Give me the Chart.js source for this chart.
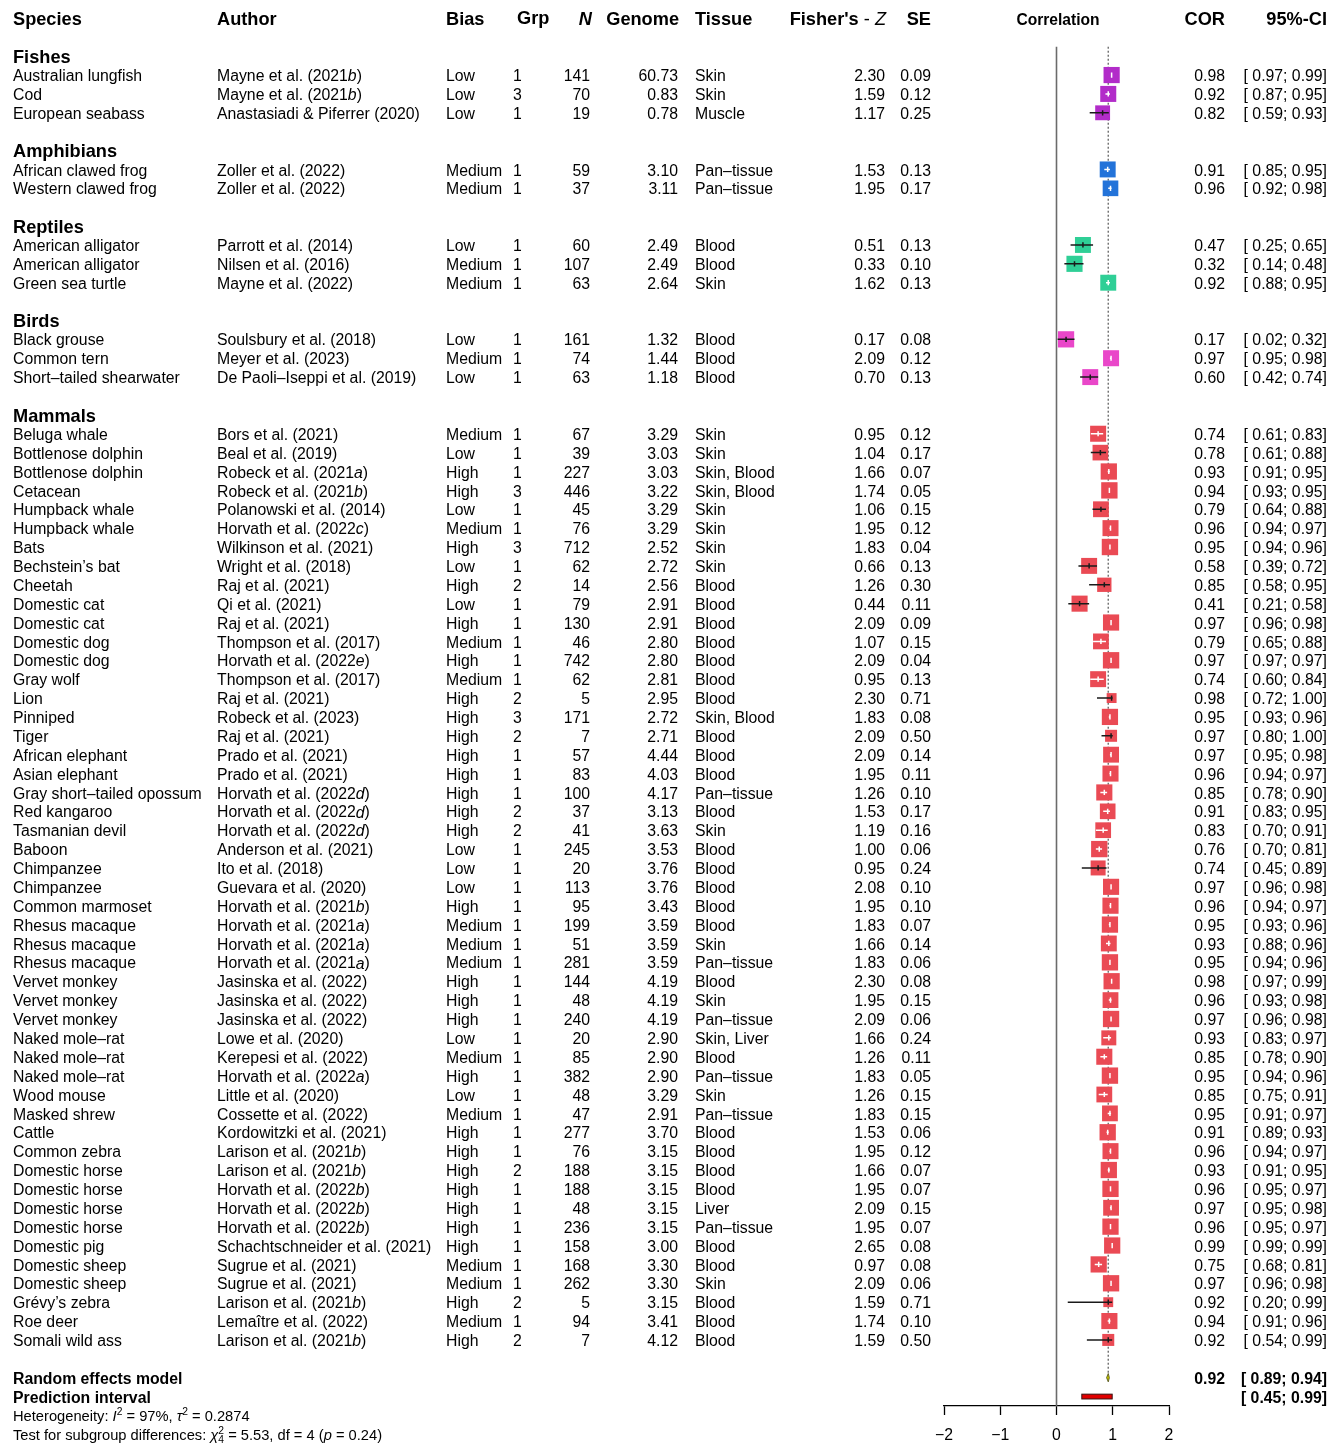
<!DOCTYPE html>
<html>
<head>
<meta charset="utf-8">
<title>Epigenetic clock accuracy forest plot</title>
<script src="https://cdn.jsdelivr.net/npm/chart.js@4.4.1/dist/chart.umd.min.js"></script>
<style>
  body { margin: 0; background: #fff; }
  canvas { display: block; }
</style>
</head>
<body>
<canvas id="forest" width="1344" height="1447"></canvas>
<script>
'use strict';

// ------------------------------- Data ------------------------------//
const groupNames = ['Fishes', 'Amphibians', 'Reptiles', 'Birds', 'Mammals'];
const groupCounts = [3, 2, 3, 3, 49];
const groupColors = ['#b22cc9', '#2373d9', '#2fcf96', '#e947c9', '#ea4a54'];

const species = [
  'Australian lungfish', 'Cod', 'European seabass',
  'African clawed frog', 'Western clawed frog',
  'American alligator', 'American alligator', 'Green sea turtle',
  'Black grouse', 'Common tern', 'Short\u2013tailed shearwater',
  'Beluga whale', 'Bottlenose dolphin', 'Bottlenose dolphin', 'Cetacean', 'Humpback whale',
  'Humpback whale', 'Bats', 'Bechstein\u2019s bat', 'Cheetah', 'Domestic cat',
  'Domestic cat', 'Domestic dog', 'Domestic dog', 'Gray wolf', 'Lion',
  'Pinniped', 'Tiger', 'African elephant', 'Asian elephant', 'Gray short\u2013tailed opossum',
  'Red kangaroo', 'Tasmanian devil', 'Baboon', 'Chimpanzee', 'Chimpanzee',
  'Common marmoset', 'Rhesus macaque', 'Rhesus macaque', 'Rhesus macaque', 'Vervet monkey',
  'Vervet monkey', 'Vervet monkey', 'Naked mole\u2013rat', 'Naked mole\u2013rat', 'Naked mole\u2013rat',
  'Wood mouse', 'Masked shrew', 'Cattle', 'Common zebra', 'Domestic horse',
  'Domestic horse', 'Domestic horse', 'Domestic horse', 'Domestic pig', 'Domestic sheep',
  'Domestic sheep', 'Gr\u00e9vy\u2019s zebra', 'Roe deer', 'Somali wild ass'
];

// *x* marks italic letters
const authors = [
  'Mayne et al. (2021*b*)', 'Mayne et al. (2021*b*)', 'Anastasiadi & Piferrer (2020)',
  'Zoller et al. (2022)', 'Zoller et al. (2022)',
  'Parrott et al. (2014)', 'Nilsen et al. (2016)', 'Mayne et al. (2022)',
  'Soulsbury et al. (2018)', 'Meyer et al. (2023)', 'De Paoli\u2013Iseppi et al. (2019)',
  'Bors et al. (2021)', 'Beal et al. (2019)', 'Robeck et al. (2021*a*)', 'Robeck et al. (2021*b*)', 'Polanowski et al. (2014)',
  'Horvath et al. (2022*c*)', 'Wilkinson et al. (2021)', 'Wright et al. (2018)', 'Raj et al. (2021)', 'Qi et al. (2021)',
  'Raj et al. (2021)', 'Thompson et al. (2017)', 'Horvath et al. (2022*e*)', 'Thompson et al. (2017)', 'Raj et al. (2021)',
  'Robeck et al. (2023)', 'Raj et al. (2021)', 'Prado et al. (2021)', 'Prado et al. (2021)', 'Horvath et al. (2022*d*)',
  'Horvath et al. (2022*d*)', 'Horvath et al. (2022*d*)', 'Anderson et al. (2021)', 'Ito et al. (2018)', 'Guevara et al. (2020)',
  'Horvath et al. (2021*b*)', 'Horvath et al. (2021*a*)', 'Horvath et al. (2021*a*)', 'Horvath et al. (2021*a*)', 'Jasinska et al. (2022)',
  'Jasinska et al. (2022)', 'Jasinska et al. (2022)', 'Lowe et al. (2020)', 'Kerepesi et al. (2022)', 'Horvath et al. (2022*a*)',
  'Little et al. (2020)', 'Cossette et al. (2022)', 'Kordowitzki et al. (2021)', 'Larison et al. (2021*b*)', 'Larison et al. (2021*b*)',
  'Horvath et al. (2022*b*)', 'Horvath et al. (2022*b*)', 'Horvath et al. (2022*b*)', 'Schachtschneider et al. (2021)', 'Sugrue et al. (2021)',
  'Sugrue et al. (2021)', 'Larison et al. (2021*b*)', 'Lema\u00eetre et al. (2022)', 'Larison et al. (2021*b*)'
];

const bias = [
  'Low', 'Low', 'Low',
  'Medium', 'Medium',
  'Low', 'Medium', 'Medium',
  'Low', 'Medium', 'Low',
  'Medium', 'Low', 'High', 'High', 'Low',
  'Medium', 'High', 'Low', 'High', 'Low',
  'High', 'Medium', 'High', 'Medium', 'High',
  'High', 'High', 'High', 'High', 'High',
  'High', 'High', 'Low', 'Low', 'Low',
  'High', 'Medium', 'Medium', 'Medium', 'High',
  'High', 'High', 'Low', 'Medium', 'High',
  'Low', 'Medium', 'High', 'High', 'High',
  'High', 'High', 'High', 'High', 'Medium',
  'Medium', 'High', 'Medium', 'High'
];

const grp = [
  1, 3, 1,
  1, 1,
  1, 1, 1,
  1, 1, 1,
  1, 1, 1, 3, 1,  1, 3, 1, 2, 1,  1, 1, 1, 1, 2,  3, 2, 1, 1, 1,
  2, 2, 1, 1, 1,  1, 1, 1, 1, 1,  1, 1, 1, 1, 1,  1, 1, 1, 1, 2,
  1, 1, 1, 1, 1,  1, 2, 1, 2
];

const sampleN = [
  141, 70, 19,
  59, 37,
  60, 107, 63,
  161, 74, 63,
  67, 39, 227, 446, 45,  76, 712, 62, 14, 79,  130, 46, 742, 62, 5,  171, 7, 57, 83, 100,
  37, 41, 245, 20, 113,  95, 199, 51, 281, 144,  48, 240, 20, 85, 382,  48, 47, 277, 76, 188,
  188, 48, 236, 158, 168,  262, 5, 94, 7
];

const genome = [
  60.73, 0.83, 0.78,
  3.10, 3.11,
  2.49, 2.49, 2.64,
  1.32, 1.44, 1.18,
  3.29, 3.03, 3.03, 3.22, 3.29,  3.29, 2.52, 2.72, 2.56, 2.91,  2.91, 2.80, 2.80, 2.81, 2.95,
  2.72, 2.71, 4.44, 4.03, 4.17,  3.13, 3.63, 3.53, 3.76, 3.76,  3.43, 3.59, 3.59, 3.59, 4.19,
  4.19, 4.19, 2.90, 2.90, 2.90,  3.29, 2.91, 3.70, 3.15, 3.15,  3.15, 3.15, 3.15, 3.00, 3.30,
  3.30, 3.15, 3.41, 4.12
];

const tissue = [
  'Skin', 'Skin', 'Muscle',
  'Pan\u2013tissue', 'Pan\u2013tissue',
  'Blood', 'Blood', 'Skin',
  'Blood', 'Blood', 'Blood',
  'Skin', 'Skin', 'Skin, Blood', 'Skin, Blood', 'Skin',
  'Skin', 'Skin', 'Skin', 'Blood', 'Blood',
  'Blood', 'Blood', 'Blood', 'Blood', 'Blood',
  'Skin, Blood', 'Blood', 'Blood', 'Blood', 'Pan\u2013tissue',
  'Blood', 'Skin', 'Blood', 'Blood', 'Blood',
  'Blood', 'Blood', 'Skin', 'Pan\u2013tissue', 'Blood',
  'Skin', 'Pan\u2013tissue', 'Skin, Liver', 'Blood', 'Pan\u2013tissue',
  'Skin', 'Pan\u2013tissue', 'Blood', 'Blood', 'Blood',
  'Blood', 'Liver', 'Pan\u2013tissue', 'Blood', 'Blood',
  'Skin', 'Blood', 'Blood', 'Blood'
];

const fisherZ = [
  2.30, 1.59, 1.17,
  1.53, 1.95,
  0.51, 0.33, 1.62,
  0.17, 2.09, 0.70,
  0.95, 1.04, 1.66, 1.74, 1.06,  1.95, 1.83, 0.66, 1.26, 0.44,  2.09, 1.07, 2.09, 0.95, 2.30,
  1.83, 2.09, 2.09, 1.95, 1.26,  1.53, 1.19, 1.00, 0.95, 2.08,  1.95, 1.83, 1.66, 1.83, 2.30,
  1.95, 2.09, 1.66, 1.26, 1.83,  1.26, 1.83, 1.53, 1.95, 1.66,  1.95, 2.09, 1.95, 2.65, 0.97,
  2.09, 1.59, 1.74, 1.59
];

const se = [
  0.09, 0.12, 0.25,
  0.13, 0.17,
  0.13, 0.10, 0.13,
  0.08, 0.12, 0.13,
  0.12, 0.17, 0.07, 0.05, 0.15,  0.12, 0.04, 0.13, 0.30, 0.11,  0.09, 0.15, 0.04, 0.13, 0.71,
  0.08, 0.50, 0.14, 0.11, 0.10,  0.17, 0.16, 0.06, 0.24, 0.10,  0.10, 0.07, 0.14, 0.06, 0.08,
  0.15, 0.06, 0.24, 0.11, 0.05,  0.15, 0.15, 0.06, 0.12, 0.07,  0.07, 0.15, 0.07, 0.08, 0.08,
  0.06, 0.71, 0.10, 0.50
];

const cor = [
  0.98, 0.92, 0.82,
  0.91, 0.96,
  0.47, 0.32, 0.92,
  0.17, 0.97, 0.60,
  0.74, 0.78, 0.93, 0.94, 0.79,  0.96, 0.95, 0.58, 0.85, 0.41,  0.97, 0.79, 0.97, 0.74, 0.98,
  0.95, 0.97, 0.97, 0.96, 0.85,  0.91, 0.83, 0.76, 0.74, 0.97,  0.96, 0.95, 0.93, 0.95, 0.98,
  0.96, 0.97, 0.93, 0.85, 0.95,  0.85, 0.95, 0.91, 0.96, 0.93,  0.96, 0.97, 0.96, 0.99, 0.75,
  0.97, 0.92, 0.94, 0.92
];

const ciLow = [
  0.97, 0.87, 0.59,
  0.85, 0.92,
  0.25, 0.14, 0.88,
  0.02, 0.95, 0.42,
  0.61, 0.61, 0.91, 0.93, 0.64,  0.94, 0.94, 0.39, 0.58, 0.21,  0.96, 0.65, 0.97, 0.60, 0.72,
  0.93, 0.80, 0.95, 0.94, 0.78,  0.83, 0.70, 0.70, 0.45, 0.96,  0.94, 0.93, 0.88, 0.94, 0.97,
  0.93, 0.96, 0.83, 0.78, 0.94,  0.75, 0.91, 0.89, 0.94, 0.91,  0.95, 0.95, 0.95, 0.99, 0.68,
  0.96, 0.20, 0.91, 0.54
];

const ciHigh = [
  0.99, 0.95, 0.93,
  0.95, 0.98,
  0.65, 0.48, 0.95,
  0.32, 0.98, 0.74,
  0.83, 0.88, 0.95, 0.95, 0.88,  0.97, 0.96, 0.72, 0.95, 0.58,  0.98, 0.88, 0.97, 0.84, 1.00,
  0.96, 1.00, 0.98, 0.97, 0.90,  0.95, 0.91, 0.81, 0.89, 0.98,  0.97, 0.96, 0.96, 0.96, 0.99,
  0.98, 0.98, 0.97, 0.90, 0.96,  0.91, 0.97, 0.93, 0.97, 0.95,  0.97, 0.98, 0.97, 0.99, 0.81,
  0.98, 0.99, 0.96, 0.99
];

// pooled estimate and heterogeneity
const overallCor = 0.92;
const overallCi = [0.89, 0.94];
const predictionCi = [0.45, 0.99];
const tau2 = 0.2874;
const xTicks = [-2, -1, 0, 1, 2];

// ------------------------------- Layout helpers ------------------------------//
const FONT = '"Liberation Sans", Arial, Helvetica, sans-serif';
const TXT = 15.8;
const HEAD = 18.2;
const TEXT_DY = 1.8; // canvas 'middle' sits a little high for these glyphs

const studyRows = [];
const studyGroup = [];
const headerRows = [];
let rowCursor = 2;
groupCounts.forEach(function (count, gi) {
  headerRows.push(rowCursor);
  for (let k = 1; k <= count; k++) {
    studyRows.push(rowCursor + k);
    studyGroup.push(gi);
  }
  rowCursor += count + 2;
});
const overallRow = rowCursor;
const predRow = rowCursor + 1;

// square side follows the random effects weight
function boxSide(s) {
  return 8.8 * Math.sqrt(1 / (s * s + tau2));
}

function fmt(v) {
  return v.toFixed(2);
}

function fontOf(p) {
  return (p.i ? 'italic ' : '') + (p.b ? 'bold ' : '') + p.s + 'px ' + FONT;
}

// draws a list of styled text pieces on one line
function drawParts(ctx, parts, x, y, align) {
  let total = 0;
  for (const p of parts) {
    ctx.font = fontOf(p);
    p.w = ctx.measureText(p.t).width;
    if (!p.stay) total += p.w;
  }
  let cx = x;
  if (align === 'right') cx = x - total;
  if (align === 'center') cx = x - total / 2;
  for (const p of parts) {
    ctx.font = fontOf(p);
    ctx.fillText(p.t, cx, y + TEXT_DY + (p.dy || 0));
    if (!p.stay) cx += p.w;
  }
}

function plain(t, size, bold) {
  return [{ t: t, s: size || TXT, b: !!bold }];
}

function authorParts(str) {
  return str.split('*').map(function (t, k) {
    return { t: t, s: TXT, i: k % 2 === 1 };
  });
}

// ------------------------------- Plugin ------------------------------//
const forestPlugin = {
  id: 'forestPlugin',
  beforeDatasetsDraw(chart) {
    const ctx = chart.ctx;
    const xs = chart.scales.x;
    const ys = chart.scales.y;
    const top = ys.getPixelForValue(1.5);
    ctx.save();
    // line of no effect
    ctx.strokeStyle = '#6b6b6b';
    ctx.lineWidth = 1.6;
    ctx.beginPath();
    ctx.moveTo(xs.getPixelForValue(0), top);
    ctx.lineTo(xs.getPixelForValue(0), chart.chartArea.bottom);
    ctx.stroke();
    // pooled estimate
    ctx.strokeStyle = '#6f6f6f';
    ctx.lineWidth = 1.4;
    ctx.setLineDash([2, 2]);
    ctx.beginPath();
    ctx.moveTo(xs.getPixelForValue(overallCor), top);
    ctx.lineTo(xs.getPixelForValue(overallCor), ys.getPixelForValue(overallRow) - 4);
    ctx.stroke();
    ctx.restore();
  },
  afterDatasetsDraw(chart) {
    const ctx = chart.ctx;
    const xs = chart.scales.x;
    const ys = chart.scales.y;
    ctx.save();
    ctx.lineWidth = 1.5;
    for (let i = 0; i < cor.length; i++) {
      const y = ys.getPixelForValue(studyRows[i]);
      const xc = xs.getPixelForValue(cor[i]);
      const xl = xs.getPixelForValue(ciLow[i]);
      const xh = xs.getPixelForValue(ciHigh[i]);
      const half = boxSide(se[i]) / 2;
      const inside = xl >= xc - half && xh <= xc + half;
      ctx.strokeStyle = inside ? '#ffffff' : '#1a1a1a';
      ctx.beginPath();
      ctx.moveTo(xl, y);
      ctx.lineTo(xh, y);
      ctx.moveTo(xc, y - 2.6);
      ctx.lineTo(xc, y + 2.6);
      ctx.stroke();
    }
    // random effects diamond
    const yd = ys.getPixelForValue(overallRow);
    ctx.fillStyle = '#c2c200';
    ctx.strokeStyle = '#4d4d1a';
    ctx.lineWidth = 0.8;
    ctx.beginPath();
    ctx.moveTo(xs.getPixelForValue(overallCi[0]), yd);
    ctx.lineTo(xs.getPixelForValue(overallCor), yd - 4.2);
    ctx.lineTo(xs.getPixelForValue(overallCi[1]), yd);
    ctx.lineTo(xs.getPixelForValue(overallCor), yd + 4.2);
    ctx.closePath();
    ctx.fill();
    ctx.stroke();
    // prediction interval
    const yp = ys.getPixelForValue(predRow);
    const p0 = xs.getPixelForValue(predictionCi[0]);
    const p1 = xs.getPixelForValue(predictionCi[1]);
    ctx.fillStyle = '#e00000';
    ctx.strokeStyle = '#3a1010';
    ctx.lineWidth = 1;
    ctx.fillRect(p0, yp - 2.4, p1 - p0, 4.8);
    ctx.strokeRect(p0, yp - 2.4, p1 - p0, 4.8);
    ctx.restore();
  },
  afterDraw(chart) {
    const ctx = chart.ctx;
    const ys = chart.scales.y;
    ctx.save();
    ctx.fillStyle = '#000';
    ctx.textBaseline = 'middle';

    // column headers
    const yh = ys.getPixelForValue(0);
    drawParts(ctx, plain('Species', HEAD, true), 13, yh, 'left');
    drawParts(ctx, plain('Author', HEAD, true), 217, yh, 'left');
    drawParts(ctx, plain('Bias', HEAD, true), 446, yh, 'left');
    drawParts(ctx, plain('Grp', HEAD, true), 517, yh - 1, 'left');
    drawParts(ctx, [{ t: 'N', s: HEAD, b: true, i: true }], 592, yh, 'right');
    drawParts(ctx, plain('Genome', HEAD, true), 679, yh, 'right');
    drawParts(ctx, plain('Tissue', HEAD, true), 695, yh, 'left');
    drawParts(ctx, [
      { t: 'Fisher\'s', s: HEAD, b: true },
      { t: ' - ', s: HEAD },
      { t: 'Z', s: HEAD, i: true }
    ], 886, yh, 'right');
    drawParts(ctx, plain('SE', HEAD, true), 931, yh, 'right');
    drawParts(ctx, plain('Correlation', 15.6, true), 1058, yh, 'center');
    drawParts(ctx, plain('COR', HEAD, true), 1225, yh, 'right');
    drawParts(ctx, plain('95%-CI', HEAD, true), 1327, yh, 'right');

    // subgroup headings
    headerRows.forEach(function (r, gi) {
      drawParts(ctx, plain(groupNames[gi], HEAD, true), 13, ys.getPixelForValue(r), 'left');
    });

    // study rows
    for (let i = 0; i < species.length; i++) {
      const y = ys.getPixelForValue(studyRows[i]);
      drawParts(ctx, plain(species[i]), 13, y, 'left');
      drawParts(ctx, authorParts(authors[i]), 217, y, 'left');
      drawParts(ctx, plain(bias[i]), 446, y, 'left');
      drawParts(ctx, plain(String(grp[i])), 513, y, 'left');
      drawParts(ctx, plain(String(sampleN[i])), 590, y, 'right');
      drawParts(ctx, plain(fmt(genome[i])), 678, y, 'right');
      drawParts(ctx, plain(tissue[i]), 695, y, 'left');
      drawParts(ctx, plain(fmt(fisherZ[i])), 885, y, 'right');
      drawParts(ctx, plain(fmt(se[i])), 931, y, 'right');
      drawParts(ctx, plain(fmt(cor[i])), 1225, y, 'right');
      drawParts(ctx, plain('[ ' + fmt(ciLow[i]) + '; ' + fmt(ciHigh[i]) + ']'), 1327, y, 'right');
    }

    // pooled rows
    const yo = ys.getPixelForValue(overallRow);
    const yp = ys.getPixelForValue(predRow);
    drawParts(ctx, plain('Random effects model', TXT, true), 13, yo, 'left');
    drawParts(ctx, plain('Prediction interval', TXT, true), 13, yp, 'left');
    drawParts(ctx, plain(fmt(overallCor), TXT, true), 1225, yo, 'right');
    drawParts(ctx, plain('[ ' + fmt(overallCi[0]) + '; ' + fmt(overallCi[1]) + ']', TXT, true), 1327, yo, 'right');
    drawParts(ctx, plain('[ ' + fmt(predictionCi[0]) + '; ' + fmt(predictionCi[1]) + ']', TXT, true), 1327, yp, 'right');

    // heterogeneity notes
    const sm = 14.7;
    const sup = 10.3;
    drawParts(ctx, [
      { t: 'Heterogeneity: ', s: sm },
      { t: 'I', s: sm, i: true },
      { t: '2', s: sup, dy: -5 },
      { t: ' = 97%, ', s: sm },
      { t: '\u03c4', s: sm, i: true },
      { t: '2', s: sup, dy: -5 },
      { t: ' = 0.2874', s: sm }
    ], 13, ys.getPixelForValue(predRow + 1), 'left');
    drawParts(ctx, [
      { t: 'Test for subgroup differences: ', s: sm },
      { t: '\u03c7', s: sm, i: true },
      { t: '2', s: sup, dy: -5, stay: true },
      { t: '4', s: sup, dy: 4 },
      { t: ' = 5.53, df = 4 (', s: sm },
      { t: 'p', s: sm, i: true },
      { t: ' = 0.24)', s: sm }
    ], 13, ys.getPixelForValue(predRow + 2), 'left');
    ctx.restore();
  }
};

// ------------------------------- Chart ------------------------------//
const datasets = groupNames.map(function (name, gi) {
  const idx = [];
  for (let i = 0; i < cor.length; i++) {
    if (studyGroup[i] === gi) idx.push(i);
  }
  return {
    label: name,
    data: idx.map(function (i) { return { x: cor[i], y: studyRows[i] }; }),
    pointStyle: 'rect',
    pointRadius: idx.map(function (i) { return boxSide(se[i]) / Math.SQRT2; }),
    pointHoverRadius: idx.map(function (i) { return boxSide(se[i]) / Math.SQRT2; }),
    backgroundColor: groupColors[gi],
    borderColor: groupColors[gi],
    borderWidth: 0
  };
});

new Chart(document.getElementById('forest'), {
  type: 'scatter',
  data: { datasets: datasets },
  options: {
    responsive: false,
    animation: false,
    events: [],
    layout: { autoPadding: false, padding: { left: 944, right: 175, top: 0, bottom: 0 } },
    plugins: {
      legend: { display: false },
      tooltip: { enabled: false }
    },
    scales: {
      x: {
        type: 'linear',
        min: xTicks[0],
        max: xTicks[xTicks.length - 1],
        afterBuildTicks(scale) {
          scale.ticks = xTicks.map(function (v) { return { value: v }; });
        },
        afterFit(scale) {
          scale.height = 41;
        },
        ticks: {
          color: '#000',
          padding: 11,
          maxRotation: 0,
          font: { family: FONT, size: TXT },
          callback: function (v) { return v < 0 ? '\u2212' + Math.abs(v) : String(v); }
        },
        grid: {
          drawOnChartArea: false,
          drawTicks: true,
          tickLength: 9,
          tickWidth: 1.3,
          tickColor: '#000'
        },
        border: { display: true, color: '#000', width: 1.3 }
      },
      y: {
        type: 'linear',
        display: false,
        reverse: true,
        min: -0.975,
        max: 73.5
      }
    }
  },
  plugins: [forestPlugin]
});
</script>
</body>
</html>
